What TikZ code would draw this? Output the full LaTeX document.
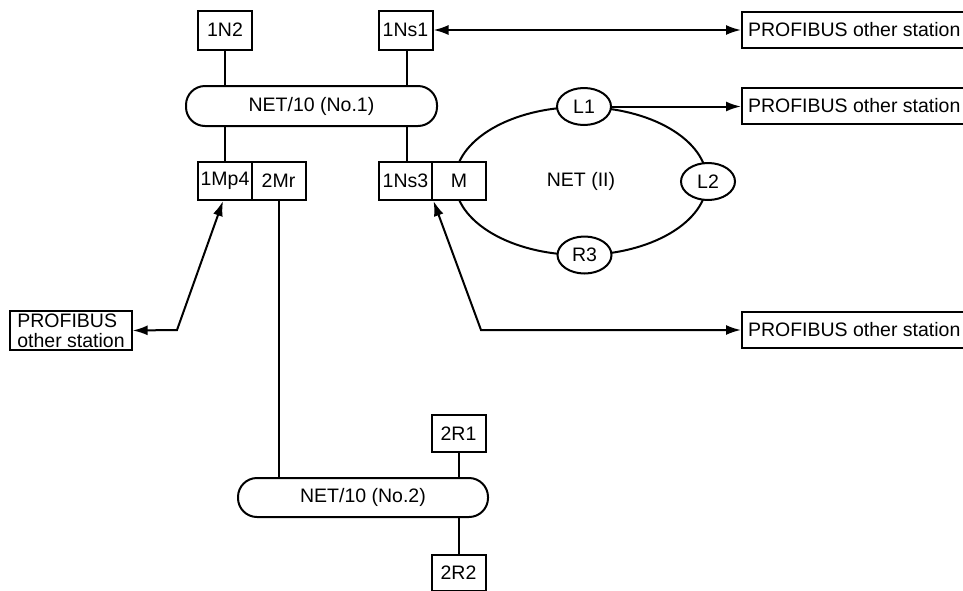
\documentclass[tikz,border=0pt]{standalone}
\usepackage{fontspec}
\setmainfont{Liberation Sans}
\usetikzlibrary{arrows.meta,shapes.geometric}
\begin{document}
\begin{tikzpicture}[x=1pt,y=-1pt,
  every node/.style={font=\fontsize{19.5}{20}\selectfont},
  ln/.style={line width=2pt},
  stbox/.style={draw,line width=2pt,minimum width=54pt,minimum height=39pt,inner sep=0pt},
  pill/.style={draw,line width=2pt,rounded corners=19pt,minimum width=251pt,minimum height=40pt},
  lnode/.style={draw,ellipse,line width=2pt,fill=white,minimum width=54pt,minimum height=37pt,inner sep=0pt},
  pbox/.style={draw,line width=2pt,anchor=west,minimum height=36pt,inner xsep=6pt},
  arr/.style={line width=2pt,-{Latex[length=15pt,width=10pt]}},
  darr/.style={line width=2pt,{Latex[length=15pt,width=10pt]}-{Latex[length=15pt,width=10pt]}}]
\useasboundingbox (0,0) rectangle (963,590);
% top stations
\node[stbox] (n1n2) at (225,30) {1N2};
\node[stbox] (ns1) at (405.5,30) {1Ns1};
\node[pill] (net1) at (311.5,106) {NET/10 (No.1)};
% ring
\node[draw,ellipse,line width=2pt,minimum width=252pt,minimum height=148pt] (ring) at (581,181) {NET (II)};
\node[stbox,minimum height=38pt] (mp4) at (225,181) {1Mp4};
\node[stbox,minimum height=38pt] (mr) at (278.5,181) {2Mr};
\node[stbox,minimum height=38pt,fill=white] (ns3) at (405.5,181) {1Ns3};
\node[stbox,minimum height=38pt,fill=white] (m) at (459,181) {M};
\node[lnode] (l1) at (584,106.5) {L1};
\node[lnode] (l2) at (708,181.5) {L2};
\node[lnode] (r3) at (584.5,255) {R3};
% profibus boxes
\node[pbox] (pb1) at (741,30) {PROFIBUS other station};
\node[pbox] (pb2) at (741,106) {PROFIBUS other station};
\node[pbox] (pb3) at (741,330) {PROFIBUS other station};
\node[draw,line width=2pt,align=left,inner xsep=7pt,inner ysep=3pt] (pbl) at (71,330.5) {PROFIBUS\\other station};
% second network
\node[pill,minimum width=250pt,minimum height=39pt] (net2) at (363,497.5) {NET/10 (No.2)};
\node[stbox,minimum height=37pt] (r21) at (458.5,433.5) {2R1};
\node[stbox,minimum height=36pt] (r22) at (458.5,573) {2R2};
% connectors
\draw[ln] (n1n2.south) -- (n1n2.south |- net1.north);
\draw[ln] ([xshift=1.5pt]ns1.south) -- ([xshift=1.5pt]ns1.south |- net1.north);
\draw[ln] (mp4.north) -- (mp4.north |- net1.south);
\draw[ln] ([xshift=1.5pt]ns3.north) -- ([xshift=1.5pt]ns3.north |- net1.south);
\draw[ln] (mr.south) -- (mr.south |- net2.north);
\draw[ln] (r21.south) -- (r21.south |- net2.north);
\draw[ln] (r22.north) -- (r22.north |- net2.south);
\draw[darr] (ns1.east) -- (pb1.west);
\draw[arr] (l1.east) -- (l1.east -| pb2.west);
\coordinate (c1) at (177,330);
\draw[darr] (pbl.east) -- (c1) -- ([xshift=-2pt]mp4.south);
\coordinate (c2) at (481,330);
\draw[darr] (ns3.south east) -- (c2) -- (pb3.west);
\end{tikzpicture}
\end{document}
